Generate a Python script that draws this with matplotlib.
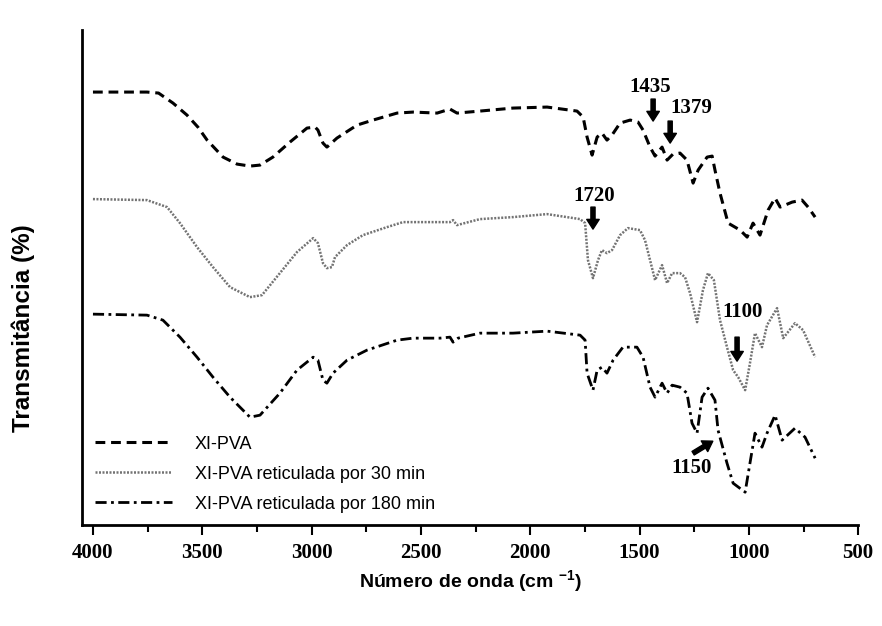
import matplotlib.pyplot as plt

plt.rcParams['mathtext.fontset'] = 'custom'
plt.rcParams['mathtext.rm'] = 'Liberation Sans'
plt.rcParams['mathtext.bf'] = 'Liberation Sans:bold'

# wavenumbers (cm-1) and transmittance (arbitrary, offset spectra)
wn_pva = [4000, 3753, 3700, 3634, 3570, 3520, 3478, 3405, 3341, 3282, 3236, 3177, 3099, 3021, 2984,
          2971, 2948, 2930, 2884, 2792, 2719, 2609, 2536, 2426, 2367, 2335, 2230, 2079, 1923, 1786,
          1758, 1740, 1717, 1694, 1672, 1649, 1626, 1589, 1543, 1507, 1484, 1452, 1429, 1397, 1374,
          1347, 1315, 1283, 1255, 1232, 1191, 1168, 1155, 1132, 1095, 1040, 1008, 981, 949, 912,
          880, 857, 802, 757, 729, 697]
t_pva = [433, 433, 432, 422, 410, 398, 385, 368, 361, 359, 360, 368, 383, 397, 398,
         395, 382, 378, 387, 400, 405, 412, 413, 412, 416, 412, 414, 417, 418, 414,
         408, 388, 370, 388, 392, 385, 390, 402, 405, 403, 395, 378, 369, 378, 365,
         371, 372, 365, 342, 355, 368, 369, 355, 332, 302, 295, 288, 302, 290, 315,
         327, 318, 323, 325, 318, 308]

wn_30 = [4000, 3753, 3661, 3602, 3524, 3451, 3373, 3282, 3227, 3145, 3067, 2993, 2971, 2948, 2930,
         2907, 2893, 2838, 2765, 2655, 2582, 2458, 2367, 2353, 2335, 2230, 2079, 1923, 1772, 1749,
         1736, 1713, 1690, 1672, 1649, 1626, 1589, 1553, 1498, 1475, 1452, 1429, 1397, 1374, 1351,
         1315, 1292, 1269, 1237, 1210, 1187, 1160, 1146, 1132, 1100, 1072, 1049, 1017, 995, 972,
         940, 917, 871, 843, 789, 752, 697]
t_30 = [326, 325, 318, 302, 278, 258, 238, 228, 230, 252, 273, 287, 282, 262, 257,
        258, 268, 280, 290, 298, 303, 303, 303, 305, 300, 306, 308, 311, 306, 302,
        265, 247, 265, 275, 272, 275, 290, 297, 295, 285, 265, 245, 260, 242, 252,
        252, 248, 232, 203, 235, 252, 245, 225, 205, 178, 155, 148, 135, 162, 192,
        178, 200, 217, 187, 202, 195, 168]

wn_180 = [4000, 3753, 3680, 3602, 3524, 3451, 3373, 3282, 3236, 3145, 3067, 2993, 2971, 2948, 2930,
          2902, 2838, 2747, 2609, 2536, 2413, 2367, 2353, 2330, 2230, 2079, 1923, 1772, 1749, 1740,
          1713, 1694, 1672, 1649, 1621, 1576, 1512, 1484, 1452, 1429, 1397, 1374, 1351, 1315, 1283,
          1260, 1237, 1214, 1187, 1155, 1141, 1100, 1072, 1017, 995, 972, 940, 917, 880, 848,
          789, 743, 697]
t_180 = [211, 210, 205, 188, 168, 148, 128, 108, 110, 132, 155, 168, 165, 145, 142,
         152, 165, 175, 185, 187, 187, 188, 183, 187, 192, 192, 194, 190, 185, 152,
         135, 155, 158, 152, 165, 178, 178, 168, 138, 128, 142, 132, 140, 138, 132,
         102, 92, 128, 137, 125, 95, 62, 42, 33, 62, 92, 78, 92, 110, 85,
         97, 88, 67]

labels = ["XI-PVA", "XI-PVA reticulada por 30 min", "XI-PVA reticulada por 180 min"]

# band labels: text, text position, arrow tail, arrow tip
bands = [("1435", (1452, 438), (1438, 426), (1438, 404)),
         ("1379", (1262, 417), (1360, 404), (1360, 382)),
         ("1720", (1708, 329), (1713, 318), (1713, 296)),
         ("1100", (1027, 213), (1054, 188), (1054, 164)),
         ("1150", (1262, 57), (1255, 72), (1165, 84))]

fig = plt.figure(figsize=(8.82, 6.26), dpi=100)
ax = fig.add_axes([0.093, 0.161, 0.880, 0.791])

ax.plot(wn_pva, t_pva, color='black', lw=2.2, dashes=(3.2, 1.9), label=labels[0])
ax.plot(wn_30, t_30, color='0.45', lw=1.8, ls=(0, (0.8, 0.6)), label=labels[1])
ax.plot(wn_180, t_180, color='black', lw=2.0, dashes=(4, 1.6, 1, 1.6), label=labels[2])

for txt, tpos, tail, tip in bands:
    ax.text(tpos[0], tpos[1], txt, ha='center', va='center', family='Liberation Serif',
            fontweight='bold', fontsize=15)
    ax.annotate('', xy=tip, xytext=tail,
                arrowprops=dict(arrowstyle='simple,head_width=0.9,head_length=0.7,tail_width=0.3',
                                color='black', shrinkA=0, shrinkB=0))

ax.set_xlim(4050, 500)
ax.set_ylim(0, 495)
ax.set_xticks(range(4000, 499, -500))
ax.set_xticks(range(3750, 500, -500), minor=True)
ax.set_yticks([])
ax.tick_params(axis='x', which='major', length=7, width=1.5, direction='out', pad=6)
ax.tick_params(axis='x', which='minor', length=5, width=1.5, direction='out')
for lab in ax.get_xticklabels():
    lab.set_family('Liberation Serif')
    lab.set_fontweight('bold')
    lab.set_fontsize(15)

ax.spines['top'].set_visible(False)
ax.spines['right'].set_visible(False)
ax.spines['left'].set_linewidth(2)
ax.spines['bottom'].set_linewidth(2)

ax.set_xlabel(r"Número de onda (cm $^{\mathbf{-1}}$)", family='Liberation Sans', fontweight='bold',
              fontsize=14, labelpad=4)
ax.set_ylabel("Transmitância (%)", family='Liberation Sans', fontweight='bold', fontsize=17.5)
ax.yaxis.set_label_coords(-0.060, 0.398)

ax.legend(frameon=False, loc='lower left', bbox_to_anchor=(0.0, 0.0),
          handlelength=4.3, handletextpad=1.25, labelspacing=0.72, borderaxespad=0.3,
          prop={'family': 'Liberation Sans', 'size': 13})

fig.savefig("out.png", dpi=100)
